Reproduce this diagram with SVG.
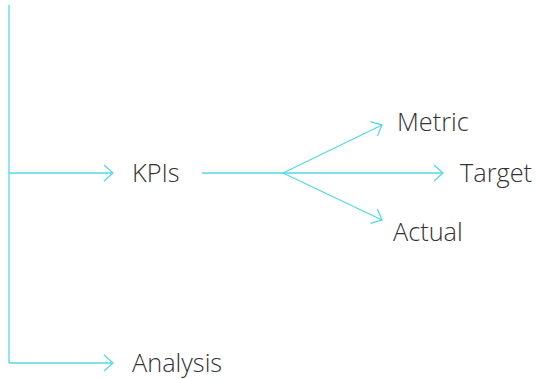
<svg xmlns="http://www.w3.org/2000/svg" width="537" height="379" viewBox="0 0 537 379">
<defs>
<style>
.c{fill:none;stroke:#55d8e3;stroke-width:1.3}
.t{font-family:"Open Sans","Liberation Sans",sans-serif;font-weight:300;font-size:25.3px;fill:#333}
</style>
<marker id="a" markerUnits="userSpaceOnUse" markerWidth="20" markerHeight="20" refX="10" refY="9" orient="auto" viewBox="0 0 20 18">
<path d="M1,1 L10,9 L1,17" fill="none" stroke="#55d8e3" stroke-width="1.3"/>
</marker>
</defs>
<rect width="537" height="379" fill="#fff"/>
<g id="connectors">
<path class="c" d="M9,5 V363"/>
<path class="c" d="M9,173 H113" marker-end="url(#a)"/>
<path class="c" d="M9,363 H113" marker-end="url(#a)"/>
<path class="c" d="M202,173 H283"/>
<path class="c" d="M283,173 H443" marker-end="url(#a)"/>
<path class="c" d="M283,173 L382,125" marker-end="url(#a)"/>
<path class="c" d="M283,173 L382,220" marker-end="url(#a)"/>
</g>
<g id="kpis"><text class="t" x="132" y="182">KPIs</text></g>
<g id="analysis"><text class="t" x="132" y="372">Analysis</text></g>
<g id="metric"><text class="t" x="397" y="131">Metric</text></g>
<g id="target"><text class="t" x="460" y="182">Target</text></g>
<g id="actual"><text class="t" x="393" y="241">Actual</text></g>
</svg>
